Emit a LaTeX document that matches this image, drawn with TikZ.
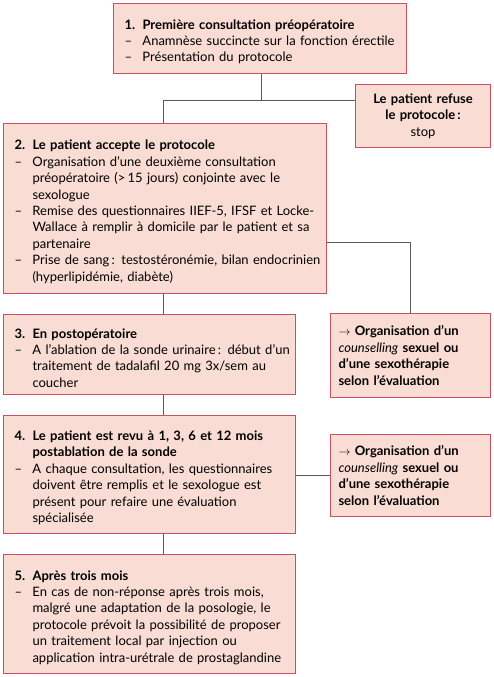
\documentclass[tikz,border=0pt]{standalone}
\usepackage{fontspec}
\setmainfont{Lato}
\definecolor{boxfill}{HTML}{F9DCD3}
\definecolor{boxdraw}{HTML}{C8505F}
\definecolor{linec}{HTML}{5A5A5A}
\newcommand\hdline[2]{\par\noindent\hangindent=18pt\hbox to 18pt{\bfseries #1\hfil}\textbf{#2}\par}
\newcommand\dashitem[1]{\par\noindent\hangindent=18pt\hbox to 18pt{–\hfil}#1\par}
\newcommand\lnx[1]{\mbox{#1}}
\tikzset{
  box/.style={draw=boxdraw, fill=boxfill, line width=1pt, anchor=north west,
    inner xsep=11pt, inner ysep=4pt, font=\fontsize{13}{16.4}\selectfont},
  conn/.style={draw=linec, line width=0.9pt}
}
\begin{document}
\begin{tikzpicture}[x=1pt,y=-1pt]
\useasboundingbox (0,0) rectangle (494,677);
\node[box, text width=271pt, minimum height=70pt, minimum width=293pt] (b1) at (113,3) {\raggedright\hfuzz=40pt
\hdline{1.}{\lnx{Première consultation préopératoire}}
\dashitem{\lnx{Anamnèse succincte sur la fonction érectile}}
\dashitem{\lnx{Présentation du protocole}}};
\node[box, text width=127pt, inner xsep=4pt, minimum height=63pt, minimum width=135pt, align=center] (refuse) at (355,84)
{\textbf{Le patient refuse}\\\textbf{le protocole\,:}\\stop};
\node[box, text width=301pt, minimum height=170pt, minimum width=323pt] (b2) at (3,123) {\raggedright\hfuzz=40pt
\hdline{2.}{\lnx{Le patient accepte le protocole}}
\dashitem{\lnx{Organisation d’une deuxième consultation}\newline \lnx{préopératoire (>\,15 jours) conjointe avec le}\newline \lnx{sexologue}}
\dashitem{\lnx{Remise des questionnaires IIEF-5, IFSF et Locke-}\newline \lnx{Wallace à remplir à domicile par le patient et sa}\newline \lnx{partenaire}}
\dashitem{\lnx{Prise de sang\,: testostéronémie, bilan endocrinien}\newline \lnx{(hyperlipidémie, diabète)}}};
\node[box, text width=270pt, minimum height=80pt, minimum width=292pt] (b3) at (3,314) {\raggedright\hfuzz=40pt
\hdline{3.}{\lnx{En postopératoire}}
\dashitem{\lnx{A l’ablation de la sonde urinaire\,: début d’un}\newline \lnx{traitement de tadalafil 20 mg 3x/sem au}\newline \lnx{coucher}}};
\node[box, text width=144pt, minimum height=84pt, minimum width=160pt, inner xsep=8pt] (c1) at (330,313) {\raggedright\bfseries\hfuzz=40pt
\lnx{$\rightarrow$ Organisation d’un}\newline \lnx{{\mdseries\itshape counselling} sexuel ou}\newline \lnx{d’une sexothérapie}\newline \lnx{selon l’évaluation}};
\node[box, text width=270pt, minimum height=118pt, minimum width=292pt] (b4) at (3,415) {\raggedright\hfuzz=40pt
\hdline{4.}{\lnx{Le patient est revu à 1, 3, 6 et 12 mois}\newline \lnx{postablation de la sonde}}
\dashitem{\lnx{A chaque consultation, les questionnaires}\newline \lnx{doivent être remplis et le sexologue est}\newline \lnx{présent pour refaire une évaluation}\newline \lnx{spécialisée}}};
\node[box, text width=144pt, minimum height=82pt, minimum width=160pt, inner xsep=8pt] (c2) at (330,434) {\raggedright\bfseries\hfuzz=40pt
\lnx{$\rightarrow$ Organisation d’un}\newline \lnx{{\mdseries\itshape counselling} sexuel ou}\newline \lnx{d’une sexothérapie}\newline \lnx{selon l’évaluation}};
\node[box, text width=270pt, minimum height=119pt, minimum width=292pt] (b5) at (3,554) {\raggedright\hfuzz=40pt
\hdline{5.}{\lnx{Après trois mois}}
\dashitem{\lnx{En cas de non-réponse après trois mois,}\newline \lnx{malgré une adaptation de la posologie, le}\newline \lnx{protocole prévoit la possibilité de proposer}\newline \lnx{un traitement local par injection ou}\newline \lnx{application intra-urétrale de prostaglandine}}};
% connectors
\coordinate (j) at (261,100);
\coordinate (vx) at (163,0);
\coordinate (q) at (0,242);
\draw[conn] (b1.south -| j) -- (j);
\draw[conn] (vx |- b2.north) -- (vx |- j) -- (refuse.west |- j);
\draw[conn] (b2.east |- q) -| (c1.north);
\draw[conn] (vx |- b2.south) -- (vx |- b3.north);
\draw[conn] (vx |- b3.south) -- (vx |- b4.north);
\draw[conn] (b4.east |- c2.west) -- (c2.west);
\draw[conn] (vx |- b4.south) -- (vx |- b5.north);
\end{tikzpicture}
\end{document}
